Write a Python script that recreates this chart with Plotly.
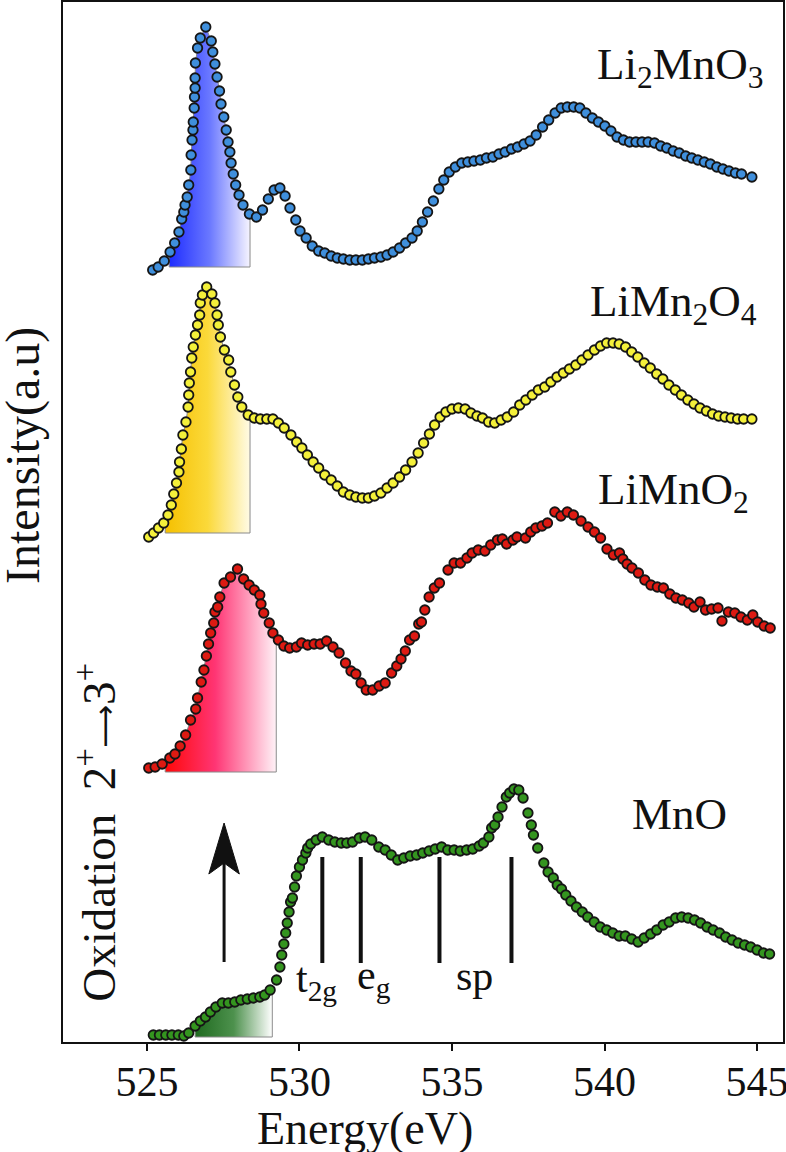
import numpy as np
import plotly.graph_objects as go

# ---------------- data (energy in eV, intensity in stacked arbitrary units) -------------
li2mno3_x = [525.19,525.37,525.57,525.76,525.91,526.05,526.14,526.21,526.25,526.32,
             526.37,526.44,526.45,526.48,526.51,526.52,526.55,526.56,526.58,526.58,
             526.59,526.66,526.75,526.93,527.11,527.16,527.23,527.30,527.38,527.43,
             527.52,527.60,527.66,527.72,527.76,527.83,527.91,528.02,528.15,528.36,
             528.59,528.79,528.98,529.17,529.36,529.53,529.69,529.88,530.02,530.22,
             530.42,530.63,530.83,531.04,531.24,531.44,531.65,531.85,532.06,532.26,
             532.46,532.67,532.87,533.07,533.28,533.48,533.69,533.86,534.03,534.20,
             534.39,534.57,534.73,534.91,535.11,535.32,535.52,535.72,535.93,536.13,
             536.34,536.54,536.74,536.95,537.15,537.36,537.56,537.76,537.97,538.17,
             538.38,538.58,538.78,538.99,539.19,539.39,539.60,539.80,540.01,540.21,
             540.41,540.62,540.82,541.03,541.23,541.43,541.64,541.84,542.04,542.25,
             542.45,542.66,542.86,543.06,543.27,543.47,543.68,543.88,544.08,544.29,
             544.49,544.83]
li2mno3_y = [77.2,77.5,78.1,79.0,79.9,81.0,82.3,83.0,83.7,84.5,
             85.7,87.2,88.7,90.2,91.2,92.0,93.4,94.5,95.4,96.4,
             97.9,99.4,100.4,101.5,100.1,99.0,97.8,96.5,95.1,93.8,
             92.5,91.2,90.0,89.0,87.9,86.8,85.7,84.7,83.7,82.8,
             82.5,83.2,84.3,85.2,85.4,84.6,83.4,82.2,81.1,80.4,
             79.6,79.1,78.9,78.6,78.4,78.3,78.2,78.2,78.2,78.3,
             78.4,78.5,78.7,79.0,79.4,79.9,80.4,81.1,82.0,83.0,
             84.1,85.3,86.2,87.0,87.5,87.9,88.0,88.1,88.2,88.4,
             88.5,88.8,89.0,89.3,89.5,89.8,90.1,90.7,91.5,92.2,
             92.9,93.4,93.5,93.5,93.4,92.9,92.4,92.0,91.6,91.1,
             90.5,90.2,90.0,90.0,90.0,90.0,89.9,89.6,89.4,89.1,
             88.9,88.6,88.4,88.2,88.0,87.8,87.5,87.3,87.1,86.9,
             86.8,86.5]

limn2o4_x = [525.06,525.22,525.38,525.55,525.69,525.80,525.88,525.97,526.05,526.07,
             526.13,526.18,526.28,526.35,526.37,526.39,526.43,526.47,526.52,526.59,
             526.66,526.73,526.75,526.82,526.96,527.13,527.23,527.30,527.34,527.41,
             527.54,527.68,527.75,527.87,527.98,528.11,528.32,528.52,528.72,528.93,
             529.13,529.31,529.50,529.72,529.91,530.08,530.26,530.45,530.63,530.83,
             531.04,531.24,531.44,531.65,531.85,532.06,532.26,532.46,532.67,532.87,
             533.07,533.28,533.48,533.69,533.89,534.07,534.26,534.43,534.61,534.80,
             535.00,535.21,535.43,535.62,535.82,536.00,536.20,536.40,536.61,536.81,
             537.02,537.22,537.42,537.63,537.83,538.04,538.24,538.44,538.65,538.85,
             539.06,539.26,539.46,539.67,539.87,540.07,540.28,540.48,540.69,540.89,
             541.09,541.30,541.50,541.71,541.91,542.11,542.32,542.52,542.73,542.93,
             543.13,543.34,543.54,543.74,543.95,544.15,544.36,544.56,544.83]
limn2o4_y = [50.5,50.9,51.4,51.9,52.7,53.7,54.8,55.9,57.0,58.0,
             59.3,60.7,62.0,63.5,64.7,65.9,67.0,68.4,69.5,70.7,
             71.7,72.7,73.9,74.7,75.5,74.8,73.9,72.7,71.7,70.5,
             69.2,68.2,67.0,65.7,64.5,63.5,62.7,62.4,62.3,62.3,
             62.3,61.9,61.4,60.7,60.0,59.4,58.7,58.0,57.4,56.7,
             56.2,55.6,55.0,54.7,54.5,54.4,54.4,54.6,54.9,55.4,
             55.9,56.5,57.2,58.0,58.9,59.9,60.8,61.7,62.5,63.0,
             63.3,63.4,63.3,62.9,62.6,62.4,62.0,61.9,62.2,62.5,
             63.0,63.7,64.2,64.7,65.2,65.5,66.0,66.5,66.9,67.3,
             67.7,68.2,68.7,69.2,69.6,69.9,69.9,69.8,69.5,69.0,
             68.5,67.9,67.4,66.8,66.3,65.7,65.2,64.7,64.2,63.8,
             63.4,63.1,62.8,62.6,62.5,62.4,62.3,62.3,62.3]

limno2_x = [525.06,525.27,525.50,525.75,525.92,526.09,526.27,526.43,526.60,526.66,
            526.78,526.87,526.95,527.02,527.09,527.19,527.23,527.32,527.39,527.53,
            527.74,527.97,528.17,528.35,528.52,528.70,528.74,528.83,529.01,529.13,
            529.31,529.49,529.68,529.90,530.07,530.27,530.48,530.68,530.89,531.10,
            531.30,531.51,531.69,531.85,532.02,532.19,532.40,532.61,532.81,533.02,
            533.19,533.33,533.47,533.61,533.77,533.91,534.00,534.11,534.25,534.42,
            534.59,534.87,535.07,535.28,535.49,535.66,535.86,536.08,536.27,536.49,
            536.65,536.79,537.00,537.13,537.41,537.58,537.75,537.95,538.13,538.37,
            538.57,538.78,538.98,539.23,539.46,539.67,539.87,540.08,540.29,540.49,
            540.60,540.74,540.90,541.11,541.32,541.52,541.73,541.93,542.14,542.34,
            542.55,542.76,542.93,543.13,543.31,543.51,543.72,543.85,544.06,544.27,
            544.47,544.68,544.86,545.02,545.23,545.43]
limno2_y = [27.4,27.5,27.8,28.4,28.8,29.6,30.7,32.2,33.3,34.4,
            36.0,37.2,38.6,39.8,40.9,41.9,43.0,43.5,44.5,45.9,
            46.5,47.3,46.3,45.7,45.2,44.7,43.8,42.9,41.9,40.9,
            40.2,39.6,39.4,39.5,39.9,39.7,39.8,39.8,40.1,39.5,
            38.9,37.9,37.1,36.8,35.9,35.2,35.2,35.6,35.9,36.9,
            37.6,38.3,39.1,40.2,40.6,41.8,42.0,43.2,44.5,45.4,
            45.9,47.2,47.9,47.9,48.4,48.9,49.2,49.1,49.7,50.2,
            50.3,49.8,50.2,50.5,50.4,51.0,51.4,51.6,51.9,53.0,
            52.6,53.0,52.7,52.1,51.5,51.0,50.4,49.3,48.7,48.9,
            48.3,47.8,47.4,46.9,46.2,45.7,45.5,45.4,44.8,44.4,
            44.2,43.9,43.5,44.0,43.2,43.3,43.4,42.1,43.0,42.9,
            42.5,42.2,42.7,42.0,41.6,41.4]

mno_x = [525.21,525.41,525.62,525.82,526.03,526.21,526.37,526.58,526.75,526.92,
         527.08,527.26,527.47,527.67,527.88,528.08,528.29,528.49,528.70,528.86,
         529.04,529.25,529.36,529.42,529.49,529.55,529.60,529.66,529.71,529.77,
         529.84,529.90,530.00,530.10,530.21,530.27,530.37,530.55,530.75,530.96,
         531.16,531.37,531.55,531.74,531.96,532.15,532.37,532.60,532.81,533.01,
         533.22,533.42,533.63,533.84,534.04,534.25,534.45,534.66,534.86,535.07,
         535.27,535.48,535.68,535.89,536.03,536.21,536.30,536.40,536.51,536.64,
         536.78,536.89,537.03,537.19,537.33,537.49,537.60,537.67,537.81,538.01,
         538.15,538.32,538.45,538.59,538.73,538.90,539.08,539.27,539.45,539.66,
         539.86,540.07,540.27,540.48,540.68,540.89,541.10,541.30,541.51,541.71,
         541.92,542.12,542.33,542.53,542.74,542.95,543.15,543.36,543.56,543.77,
         543.97,544.18,544.38,544.59,544.79,545.00,545.21,545.41]
mno_y = [0.7,0.7,0.7,0.7,0.7,0.6,0.9,1.6,2.1,2.5,
         3.0,3.5,3.9,3.9,4.0,4.2,4.3,4.4,4.5,4.7,
         5.2,6.2,7.5,8.7,9.8,10.9,11.9,13.0,14.0,14.4,
         15.5,16.6,17.5,18.2,18.9,19.4,19.8,20.2,20.5,20.2,
         20.0,19.9,19.9,20.0,20.4,20.5,20.2,19.5,19.2,18.7,
         18.2,18.4,18.6,18.7,18.9,19.1,19.3,19.5,19.2,19.2,
         19.1,19.2,19.3,19.6,19.9,20.5,21.4,21.7,22.5,23.5,
         24.5,24.9,25.3,25.2,24.4,22.9,21.7,20.7,19.4,17.9,
         17.0,16.4,15.7,15.3,14.7,14.1,13.5,13.0,12.5,12.0,
         11.5,11.2,10.9,10.6,10.6,10.3,10.0,10.4,10.8,11.2,
         11.7,12.0,12.4,12.5,12.4,12.2,11.9,11.5,11.2,10.9,
         10.5,10.2,9.9,9.7,9.5,9.2,8.9,8.8]

series_names = ["Li2MnO3", "LiMn2O4", "LiMnO2", "MnO"]
series_x = [li2mno3_x, limn2o4_x, limno2_x, mno_x]
series_y = [li2mno3_y, limn2o4_y, limno2_y, mno_y]
marker_colors = ["#3f8fdc", "#f4f03a", "#dd1a12", "#34951f"]

# shaded pre-edge regions: [low eV, high eV, baseline]
fill_lo = [525.73, 525.60, 525.60, 526.58]
fill_hi = [528.38, 528.38, 529.24, 529.11]
fill_base = [77.5, 50.9, 27.0, 0.5]
fill_scales = [
    [[0, "#1e2cff"], [0.5, "#6a78ff"], [1, "#f6f4ff"]],
    [[0, "#f5c000"], [0.5, "#fbd93a"], [1, "#fffbe6"]],
    [[0, "#ff0808"], [0.45, "#ff3574"], [1, "#fff2f7"]],
    [[0, "#1f6a1f"], [0.5, "#4d914d"], [1, "#ffffff"]],
]

# series labels
label_texts = ["Li<sub>2</sub>MnO<sub>3</sub>", "LiMn<sub>2</sub>O<sub>4</sub>",
               "LiMnO<sub>2</sub>", "MnO"]
label_x = [545.30, 545.07, 544.80, 544.08]
label_y = [97.5, 73.8, 55.0, 22.8]

# MnO feature markers
feature_x = [530.75, 532.01, 534.59, 536.95]
feature_y0 = 7.9
feature_y1 = 18.5
feature_texts = ["t<sub>2g</sub>", "e<sub>g</sub>", "sp"]
feature_tx = [530.55, 532.45, 535.75]
feature_ty = [6.1, 6.4, 6.6]

# oxidation arrow
arrow_x = 527.53
arrow_y0 = 8.0
arrow_tip = 21.9
arrow_back = 16.8
arrow_notch = 17.9
arrow_half = 0.5

x_ticks = [525, 530, 535, 540, 545]
x_range = [522.25, 545.85]
y_range = [0, 104]

for xs, ys in zip(series_x, series_y):
    assert len(xs) == len(ys), (len(xs), len(ys))

FONT = "Liberation Serif"

fig = go.Figure()

# gradient fills under the pre-edge peaks
for xs, ys, lo, hi, base, cs in zip(series_x, series_y, fill_lo, fill_hi, fill_base, fill_scales):
    xa = np.array(xs)
    ya = np.array(ys)
    m = (xa >= lo) & (xa <= hi)
    top_lo = float(np.interp(lo, xa, ya))
    top_hi = float(np.interp(hi, xa, ya))
    px = [lo, lo] + list(xa[m]) + [hi, hi, lo]
    py = [base, top_lo] + list(ya[m]) + [top_hi, base, base]
    fig.add_trace(go.Scatter(
        x=px, y=py, mode="lines", fill="toself",
        fillgradient=dict(type="horizontal", colorscale=cs),
        line=dict(color="#8a8a8a", width=1),
        hoverinfo="skip", showlegend=False))

# spectra
for name, xs, ys, col in zip(series_names, series_x, series_y, marker_colors):
    fig.add_trace(go.Scatter(
        x=xs, y=ys, mode="markers", name=name,
        marker=dict(size=9.5, color=col, line=dict(color="#151515", width=1.8)),
        showlegend=False))

# feature bars on MnO
for fx in feature_x:
    fig.add_trace(go.Scatter(x=[fx, fx], y=[feature_y0, feature_y1], mode="lines",
                             line=dict(color="#111111", width=4),
                             hoverinfo="skip", showlegend=False))

# oxidation arrow (shaft + head)
fig.add_trace(go.Scatter(x=[arrow_x, arrow_x], y=[arrow_y0, arrow_notch + 0.3], mode="lines",
                         line=dict(color="#111111", width=3),
                         hoverinfo="skip", showlegend=False))
fig.add_trace(go.Scatter(
    x=[arrow_x, arrow_x - arrow_half, arrow_x, arrow_x + arrow_half, arrow_x],
    y=[arrow_tip, arrow_back, arrow_notch, arrow_back, arrow_tip],
    mode="lines", fill="toself", fillcolor="#111111",
    line=dict(color="#111111", width=1), hoverinfo="skip", showlegend=False))

annotations = []
for t, x, y in zip(label_texts, label_x, label_y):
    annotations.append(dict(x=x, y=y, xref="x", yref="y", text=t, showarrow=False,
                            xanchor="right", yanchor="middle",
                            font=dict(family=FONT, size=45, color="#111111")))
for t, x, y in zip(feature_texts, feature_tx, feature_ty):
    annotations.append(dict(x=x, y=y, xref="x", yref="y", text=t, showarrow=False,
                            xanchor="center", yanchor="middle",
                            font=dict(family=FONT, size=42, color="#111111")))
annotations.append(dict(x=523.32, y=21.0, xref="x", yref="y",
                        text=("Oxidation  2<sup>+</sup>"
                              "<span style='font-family:DejaVu Sans;font-size:30px'>\u27f6</span>"
                              "3<sup>+</sup>"),
                        textangle=-90, showarrow=False, xanchor="center", yanchor="middle",
                        font=dict(family=FONT, size=47, color="#111111")))
annotations.append(dict(x=-0.0556, y=0.5644, xref="paper", yref="paper",
                        text="Intensity(a.u)", textangle=-90, showarrow=False,
                        xanchor="center", yanchor="middle",
                        font=dict(family=FONT, size=48, color="#111111")))
annotations.append(dict(x=532.15, y=-0.0827, xref="x", yref="paper",
                        text="Energy(eV)", showarrow=False,
                        xanchor="center", yanchor="middle",
                        font=dict(family=FONT, size=46, color="#111111")))

fig.update_layout(
    width=786, height=1152,
    margin=dict(l=63, r=3, t=2, b=110, autoexpand=False),
    paper_bgcolor="white", plot_bgcolor="white",
    annotations=annotations,
    showlegend=False,
)
fig.update_xaxes(range=x_range, tickvals=x_ticks, ticks="outside", ticklen=7,
                 tickwidth=2, tickcolor="#111111", automargin=False,
                 ticklabeloverflow="allow", ticklabelstandoff=-5,
                 tickfont=dict(family=FONT, size=42, color="#111111"),
                 showline=True, linecolor="#111111", linewidth=2, mirror=True,
                 showgrid=False, zeroline=False)
fig.update_yaxes(range=y_range, showticklabels=False, ticks="", automargin=False,
                 showline=True, linecolor="#111111", linewidth=2, mirror=True,
                 showgrid=False, zeroline=False)

fig.write_html("out.html", config={"displayModeBar": False},
               post_script="document.body.style.margin='0px';document.body.style.overflow='hidden';")
